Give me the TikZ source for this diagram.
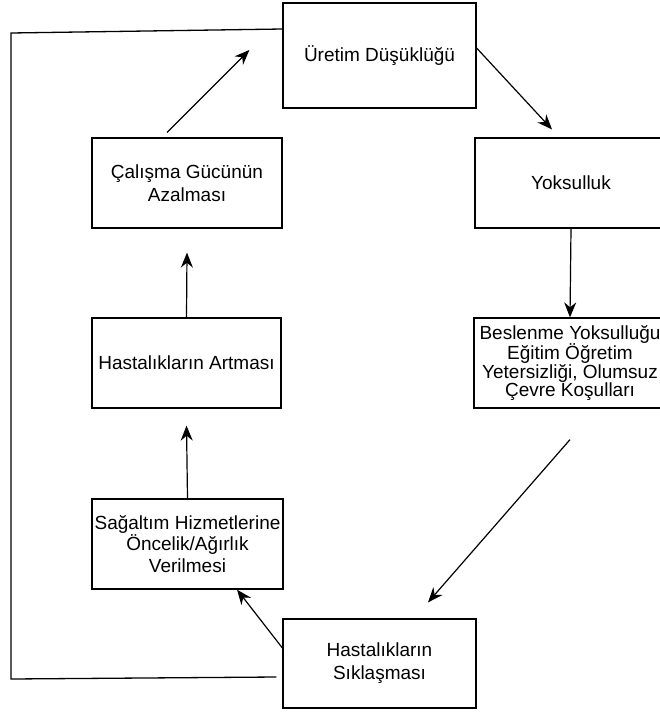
\documentclass[tikz,border=0pt]{standalone}
\usepackage{fontspec}
\setmainfont{Liberation Sans}
\usetikzlibrary{arrows.meta}

\begin{document}
\begin{tikzpicture}[
        x=1pt, y=-1pt,
        box/.style={draw, line width=1.2pt, inner sep=0pt, align=center,
            font=\fontsize{19}{23}\selectfont}, % boxes of the cycle
        arr/.style={-{Stealth[length=15pt,width=12pt]}, line width=1.2pt},
        line/.style={line width=1.3pt}
    ]
        \useasboundingbox (0,0) rectangle (659,715);

        \node[box, minimum width=193pt, minimum height=105pt] (uretim) at (379.5,55.5) {Üretim Düşüklüğü};
        \node[box, minimum width=190pt, minimum height=90pt] (calisma) at (187,183) {Çalışma Gücünün\\Azalması};
        \node[box, minimum width=192pt, minimum height=90pt] (yoksul) at (571,183) {Yoksulluk};
        \node[box, minimum width=189pt, minimum height=90pt] (artma) at (186.5,363) {Hastalıkların Artması};
        \node[box, minimum width=192pt, minimum height=90pt,
            font=\fontsize{19}{18.5}\selectfont] (beslenme) at (570,363)
            {Beslenme Yoksulluğu\\Eğitim Öğretim\\Yetersizliği, Olumsuz\\Çevre Koşulları};
        \node[box, minimum width=191pt, minimum height=90pt,
            font=\fontsize{19}{21.5}\selectfont] (sagaltim) at (187.5,544)
            {Sağaltım Hizmetlerine\\Öncelik/Ağırlık\\Verilmesi};
        \node[box, minimum width=193pt, minimum height=89pt] (siklasma) at (379.5,663.5) {Hastalıkların\\Sıklaşması};

        \draw[arr] ([xshift=-20pt,yshift=5pt]calisma.north) -- ([xshift=-33pt,yshift=5.5pt]uretim.west);
        \draw[arr] ([yshift=7.5pt]uretim.east) -- ([xshift=-19pt,yshift=8pt]yoksul.north);
        \draw[arr] (yoksul.south) -- (beslenme.north);
        \draw[arr] ([yshift=-31pt]beslenme.south) -- ([xshift=48.5pt,yshift=16pt]siklasma.north);
        \draw[arr] ([yshift=15.5pt]siklasma.west) -- ([xshift=49.5pt]sagaltim.south);
        \draw[arr] (sagaltim.north) -- ([yshift=-17pt]artma.south);
        \draw[arr] (artma.north) -- ([yshift=-24pt]calisma.south);

        % feedback line round the left side
        \coordinate (fbtop) at (11,33);
        \coordinate (fbbot) at (11,679);
        \draw[line] ([yshift=26.5pt]uretim.west) -- (fbtop) -- (fbbot)
            -- ([xshift=-6pt,yshift=-13.5pt]siklasma.west);
\end{tikzpicture}
\end{document}
